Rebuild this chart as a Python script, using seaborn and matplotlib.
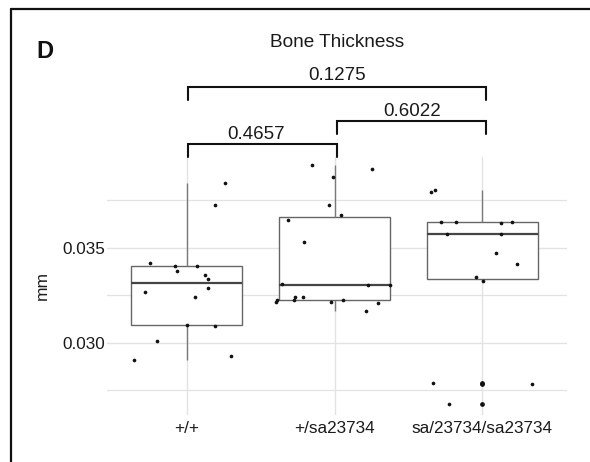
import numpy as np
import pandas as pd
import matplotlib
matplotlib.use("Agg")
import matplotlib.pyplot as plt
from matplotlib.lines import Line2D
from matplotlib.ticker import FixedLocator
import seaborn as sns

# ---------------- data ----------------
categories = ["+/+", "+/sa23734", "sa/23734/sa23734"]

vals_wt = [0.02909, 0.03011, 0.03268, 0.03418, 0.03404, 0.03376, 0.03095, 0.03242,
           0.03404, 0.03356, 0.03337, 0.03288, 0.03726, 0.03090, 0.03839, 0.02930]
jit_wt = [-0.359, -0.203, -0.280, -0.248, -0.081, -0.064, 0.004, 0.056,
          0.070, 0.126, 0.142, 0.142, 0.191, 0.191, 0.261, 0.300]

vals_het = [0.03937, 0.03872, 0.03916, 0.03723, 0.03674, 0.03646, 0.03532, 0.03307,
            0.03302, 0.03302, 0.03216, 0.03223, 0.03223, 0.03242, 0.03242, 0.03214,
            0.03223, 0.03207, 0.03165]
jit_het = [-0.152, -0.008, 0.252, -0.035, 0.044, -0.317, -0.204, -0.357,
           0.225, 0.376, -0.396, -0.387, -0.272, -0.267, -0.213, -0.026,
           0.055, 0.296, 0.211]

vals_hom = [0.03795, 0.03803, 0.03635, 0.03635, 0.03632, 0.03635, 0.03572, 0.03574,
            0.03474, 0.03413, 0.03347, 0.03326, 0.02789, 0.02781, 0.02677]
jit_hom = [-0.347, -0.318, -0.279, -0.180, 0.124, 0.199, -0.239, 0.129,
           0.091, 0.233, -0.043, 0.005, -0.332, 0.336, -0.224]

# significance comparisons: (group a, group b, label)
comp_pairs = [(0, 1), (1, 2), (0, 2)]
comp_labels = ["0.4657", "0.6022", "0.1275"]

title = "Bone Thickness"
panel_tag = "D"
ylabel = "mm"
yticks_major = [0.030, 0.035]
yticks_minor = [0.0275, 0.0325, 0.0375]

# ---------------- build table ----------------
groups = [(vals_wt, jit_wt), (vals_het, jit_het), (vals_hom, jit_hom)]
rows = []
for i, (vals, jit) in enumerate(groups):
    for v, j in zip(vals, jit):
        rows.append({"genotype": categories[i], "mm": v, "xpos": i + j})
df = pd.DataFrame(rows)

# ---------------- figure ----------------
sns.set_style("white")
plt.rcParams["font.family"] = ["Liberation Sans", "DejaVu Sans"]

W, H = 590, 462
fig = plt.figure(figsize=(W / 100, H / 100), dpi=100)
L, R, T, B = 107, 567, 157, 415
ax = fig.add_axes([L / W, 1 - B / H, (R - L) / W, (B - T) / H])
ax.set_axisbelow(True)

sns.boxplot(data=df, x="genotype", y="mm", order=categories, width=0.75,
            color="white", linecolor="#666666", linewidth=1.0, showcaps=False,
            flierprops=dict(marker="o", markersize=2.4, markerfacecolor="#111111",
                            markeredgecolor="#111111"),
            medianprops=dict(color="#444444", linewidth=1.6),
            whiskerprops=dict(color="#7a7a7a", linewidth=1.0),
            ax=ax)

sns.scatterplot(data=df, x="xpos", y="mm", color="#111111", s=7, linewidth=0,
                ax=ax, zorder=5, legend=False)

ax.set_xlim(-0.540, 2.573)
ax.set_ylim(0.026195, 0.039774)

ax.yaxis.set_major_locator(FixedLocator(yticks_major))
ax.yaxis.set_minor_locator(FixedLocator(yticks_minor))
ax.set_yticklabels(["0.030", "0.035"])
ax.set_xticks(range(len(categories)))
ax.set_xticklabels(categories)

ax.grid(True, which="major", axis="both", color="#e3e3e3", linewidth=1.0)
ax.grid(True, which="minor", axis="y", color="#e3e3e3", linewidth=0.9)
ax.tick_params(axis="both", which="both", length=0, labelsize=12.3, colors="#1a1a1a")
ax.tick_params(axis="y", pad=1.5)
ax.tick_params(axis="x", pad=4)
for s in ax.spines.values():
    s.set_visible(False)

ax.set_xlabel("")
ax.set_ylabel(ylabel, fontsize=12.5, color="#1a1a1a", labelpad=9)

# ---------------- significance brackets ----------------
def py2v(py):
    return 0.035 + (247.7 - py) / 19000.0

def px2x(px):
    return (px - 186.7) / 147.8

bracket_px = {0: 188.3, 1: 337.3, 2: 486.0}
bracket_rows = {(0, 1): (144.3, 156.7, 139.0, 256.0),
                (1, 2): (120.7, 134.0, 115.7, 412.0),
                (0, 2): (86.7, 100.0, 80.0, 337.0)}
for (a, b), lab in zip(comp_pairs, comp_labels):
    ytop, ybot, ybase, xtxt = bracket_rows[(a, b)]
    xa, xb = px2x(bracket_px[a]), px2x(bracket_px[b])
    ax.plot([xa, xa, xb, xb], [py2v(ybot), py2v(ytop), py2v(ytop), py2v(ybot)],
            color="#111111", linewidth=1.5, clip_on=False, solid_joinstyle="miter",
            zorder=6)
    ax.text(px2x(xtxt), py2v(ybase), lab, ha="center", va="baseline",
            fontsize=13.5, color="#1a1a1a", clip_on=False)

# ---------------- titles & frame ----------------
fig.text(337 / W, 1 - 47.3 / H, title, ha="center", va="baseline",
         fontsize=13.7, color="#1a1a1a")
fig.text(36 / W, 1 - 58.3 / H, panel_tag, ha="left", va="baseline",
         fontsize=17, fontweight="bold", color="#111111")

fig.add_artist(Line2D([10.5 / W, 1.0], [1 - 8.5 / H, 1 - 8.5 / H],
                      transform=fig.transFigure, color="#111111", linewidth=1.6))
fig.add_artist(Line2D([10.5 / W, 10.5 / W], [0.0, 1 - 8.5 / H],
                      transform=fig.transFigure, color="#111111", linewidth=1.6))

fig.savefig("out.png", dpi=100)
